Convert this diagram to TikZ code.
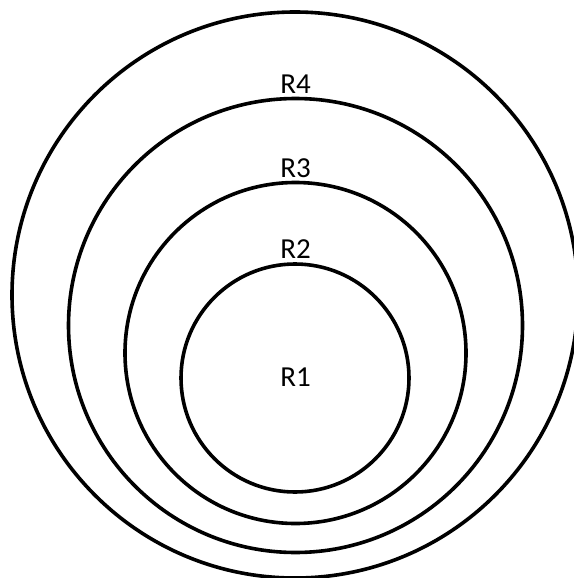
\documentclass[tikz,border=0pt]{standalone}
\usepackage{fontspec}
\setmainfont{Carlito}
\begin{document}
\begin{tikzpicture}[x=1pt,y=-1pt,
  ring/.style={draw=black,line width=3.6pt,circle,inner sep=0pt},
  lbl/.style={font=\fontsize{29}{34}\selectfont,anchor=base,inner sep=0pt}]
\useasboundingbox (0,0) rectangle (573,578);
\node[ring,minimum size=566pt] (c4) at (295,295) {};
\node[ring,minimum size=454pt] (c3) at (295.5,325.5) {};
\node[ring,minimum size=341pt] (c2) at (295.5,353) {};
\node[ring,minimum size=228pt] (c1) at (295,378) {};
\node[lbl] (r4) at (295.5,93) {R4};
\node[lbl] (r3) at (295.5,177) {R3};
\node[lbl] (r2) at (295.5,258) {R2};
\node[lbl] (r1) at (295.5,386) {R1};
\end{tikzpicture}
\end{document}
